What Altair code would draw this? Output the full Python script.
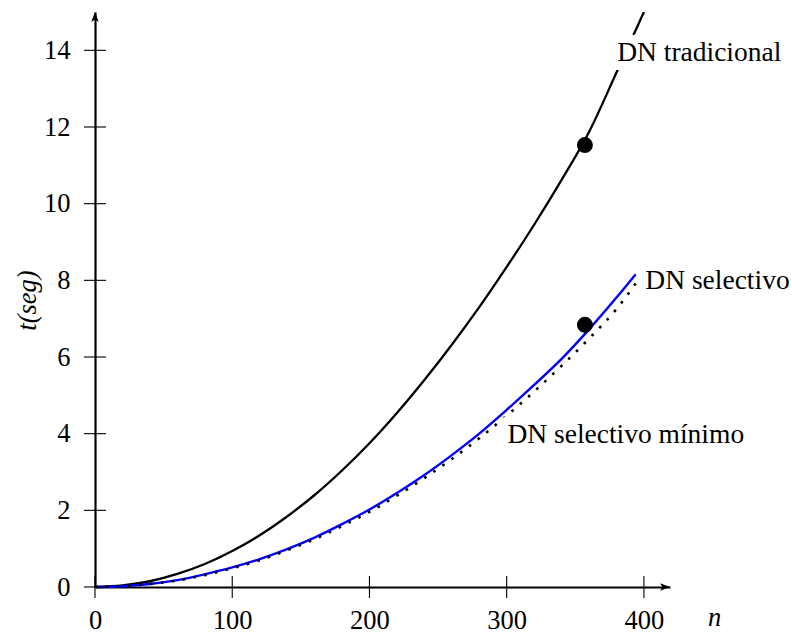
import altair as alt
import pandas as pd

# ---- data ----
n_trad = [0, 20, 40, 60, 80, 100, 120, 140, 160, 180, 200, 220, 240, 260, 280, 300, 320, 340, 360, 380, 400]
t_trad = [0, 0.04, 0.15, 0.34, 0.60, 0.94, 1.35, 1.84, 2.40, 3.04, 3.75, 4.54, 5.40, 6.32, 7.30, 8.35, 9.45, 10.62, 11.87, 13.42, 15.0]

n_sel = [0, 20, 40, 60, 80, 100, 120, 140, 160, 180, 200, 220, 240, 260, 280, 300, 320, 340, 360, 380, 394]
t_sel = [0, 0.02, 0.08, 0.18, 0.33, 0.51, 0.73, 0.99, 1.29, 1.64, 2.02, 2.45, 2.92, 3.44, 4.00, 4.62, 5.27, 5.95, 6.72, 7.55, 8.16]
t_min = [0, 0.02, 0.08, 0.17, 0.31, 0.49, 0.70, 0.96, 1.25, 1.59, 1.96, 2.38, 2.84, 3.34, 3.88, 4.47, 5.10, 5.77, 6.48, 7.25, 7.92]

pt_n = [357, 357]
pt_t = [11.53, 6.84]

lab_text = ["DN tradicional", "DN selectivo", "DN selectivo mínimo"]
lab_n = [380.5, 401.0, 300.5]
lab_t = [13.72, 7.78, 3.76]

x_ticks = [0, 100, 200, 300, 400]
y_ticks = [0, 2, 4, 6, 8, 10, 12, 14]
x_max = 419
y_max = 15

FONT = "'Liberation Serif', 'DejaVu Serif', serif"
FS = 26.5
FS_LAB = 27.5

df_trad = pd.DataFrame({"n": n_trad, "t": t_trad})
df_sel = pd.DataFrame({"n": n_sel, "t": t_sel})
df_min = pd.DataFrame({"n": n_sel, "t": t_min})
df_pts = pd.DataFrame({"n": pt_n, "t": pt_t})
df_lab = pd.DataFrame({"n": lab_n, "t": lab_t, "label": lab_text})
df_xt = pd.DataFrame({"n": x_ticks, "t": [0] * len(x_ticks), "t2": [0] * len(x_ticks)})
df_yt = pd.DataFrame({"t": y_ticks, "n": [0] * len(y_ticks), "n2": [0] * len(y_ticks)})
df_xa = pd.DataFrame({"n": [x_max], "t": [0]})
df_ya = pd.DataFrame({"n": [0], "t": [y_max]})

xs = alt.Scale(domain=[0, x_max], nice=False, zero=False)
ys = alt.Scale(domain=[0, y_max], nice=False, zero=False)

xaxis = alt.Axis(values=x_ticks, ticks=False, tickSize=0, grid=False, domain=True,
                 domainColor="black", domainWidth=2.2, labelFont=FONT, labelFontSize=FS,
                 labelColor="black", labelPadding=20, labelFlush=False,
                 title="n", titleFont=FONT, titleFontSize=FS, titleFontStyle="italic",
                 titleFontWeight="normal", titleColor="black", titleX=619, titleY=38,
                 titleAlign="center", titleBaseline="alphabetic")
yaxis = alt.Axis(values=y_ticks, ticks=False, tickSize=0, grid=False, domain=True,
                 domainColor="black", domainWidth=2.2, labelFont=FONT, labelFontSize=FS,
                 labelColor="black", labelPadding=25,
                 title="t(seg)", titleFont=FONT, titleFontSize=FS, titleFontStyle="italic",
                 titleFontWeight="normal", titleColor="black", titleAngle=270,
                 titleX=-68, titleY=288, titleAlign="center", titleBaseline="middle")

X = alt.X("n:Q", scale=xs, axis=xaxis)
Y = alt.Y("t:Q", scale=ys, axis=yaxis)

black_line = alt.Chart(df_trad).mark_line(color="black", strokeWidth=2.3, interpolate="monotone", clip=True).encode(x=X, y=Y)
blue_line = alt.Chart(df_sel).mark_line(color="#0000ff", strokeWidth=2.4, interpolate="monotone").encode(x=X, y=Y)
dot_line = alt.Chart(df_min).mark_line(color="black", strokeWidth=2.6, strokeDash=[2.6, 8.4],
                                       strokeCap="butt", interpolate="monotone").encode(x=X, y=Y)

halo = alt.Chart(df_lab).transform_filter(alt.datum.label != "DN selectivo").mark_text(
    align="left", baseline="alphabetic", font=FONT, fontSize=FS_LAB, color="white",
    stroke="white", strokeWidth=18, strokeJoin="round").encode(x=X, y=Y, text="label:N")
labels = alt.Chart(df_lab).mark_text(align="left", baseline="alphabetic", font=FONT, fontSize=FS_LAB,
                                     color="black").encode(x=X, y=Y, text="label:N")

xticks = alt.Chart(df_xt).mark_rule(color="black", strokeWidth=1.1, yOffset=-11, y2Offset=11).encode(
    x=X, y=Y, y2="t2:Q")
yticks = alt.Chart(df_yt).mark_rule(color="black", strokeWidth=1.1, xOffset=-11, x2Offset=11).encode(
    x=X, x2="n2:Q", y=Y)

x_arrow = alt.Chart(df_xa).mark_point(shape="M0,0 L-2,-0.75 L-1.5,0 L-2,0.75 Z", filled=True, size=100,
                                      color="black", opacity=1, strokeWidth=0).encode(x=X, y=Y)
y_arrow = alt.Chart(df_ya).mark_point(shape="M0,0 L-0.75,2 L0,1.5 L0.75,2 Z", filled=True, size=100,
                                      color="black", opacity=1, strokeWidth=0).encode(x=X, y=Y)

points = alt.Chart(df_pts).mark_circle(size=254, color="black", opacity=1).encode(x=X, y=Y)

chart = alt.layer(black_line, blue_line, dot_line, xticks, yticks, x_arrow, y_arrow,
                  halo, labels, points).properties(
    width=575, height=575,
    autosize=alt.AutoSizeParams(type="none"),
    padding={"left": 95, "top": 12, "right": 122, "bottom": 46},
    background="white",
).configure_view(stroke=None)

chart.save("out.html", embed_options={"renderer": "svg", "actions": False})
